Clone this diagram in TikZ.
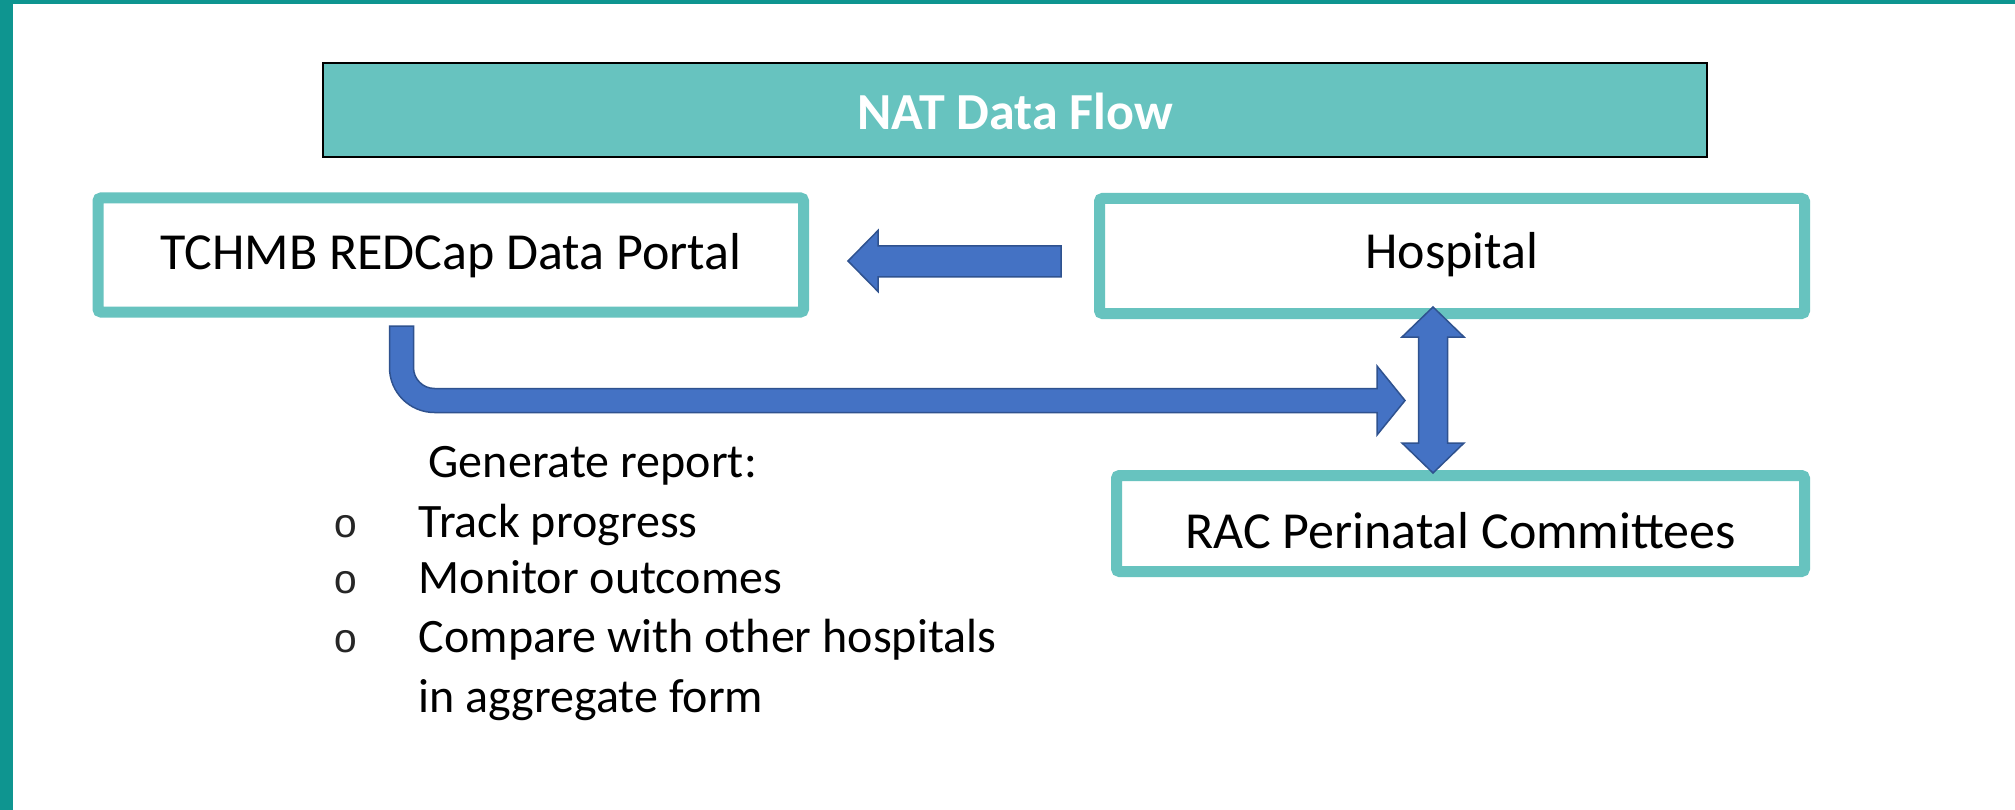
\documentclass[tikz,border=0pt]{standalone}
\usepackage{fontspec}
\setmainfont{Carlito}
\newfontfamily\bulletfont{Liberation Mono}
\definecolor{frameteal}{HTML}{0E9590}
\definecolor{lightteal}{HTML}{67C3BF}
\definecolor{arrowblue}{HTML}{4472C4}
\definecolor{arrowedge}{HTML}{2F528F}
\begin{document}
\begin{tikzpicture}[x=1pt,y=-1pt,
  boxstyle/.style={draw=lightteal, line width=11pt, rounded corners=3pt, fill=white,
    inner sep=0pt, font=\fontsize{52}{62}\selectfont, text=black},
  titlestyle/.style={draw=black, line width=2pt, fill=lightteal, inner sep=0pt,
    minimum width=1384pt, minimum height=94pt},
  blockarrow/.style={fill=arrowblue, draw=arrowedge, line width=1.5pt, line join=miter},
  listtext/.style={anchor=base west, inner sep=0pt, font=\fontsize{48}{58}\selectfont},
  bulletstyle/.style={anchor=base, inner sep=0pt, text=black!85, font=\bulletfont\fontsize{41}{58}\selectfont}
]
\useasboundingbox (0,0) rectangle (2015,810);
\fill[white] (0,0) rectangle (2015,810);
\fill[frameteal] (0,0) rectangle (2015,4);
\fill[frameteal] (0,0) rectangle (12.5,810);

% title
\node[titlestyle] (title) at (1015,110) {};
\node[anchor=base, inner sep=0pt, text=white, font=\bfseries\fontsize{52}{62}\selectfont] (titletext) at (1015,130) {NAT Data Flow};

% boxes
\node[boxstyle, minimum width=705.5pt, minimum height=114pt, text height=38pt, text depth=8pt] (portal) at (450.75,255) {TCHMB REDCap Data Portal};
\node[boxstyle, minimum width=705pt, minimum height=115pt, text height=36pt, text depth=10pt] (hosp) at (1452,256) {Hospital};
\node[boxstyle, minimum width=688pt, minimum height=96pt, text height=57pt, text depth=8pt] (rac) at (1460.5,523.5) {RAC Perinatal Committees};

% arrow Hospital -> Portal
\coordinate (la-start) at (1061,261.5);
\coordinate (la-tip) at (848,261);
\draw[blockarrow] (1061,246) -- (878,246) -- (878,230.5) -- (la-tip) -- (878,291.5) -- (878,277) -- (1061,277) -- cycle;

% bent arrow Portal -> Hospital/RAC link
\coordinate (ba-start) at (401.5,326);
\coordinate (ba-tip) at (1405,400.5);
\draw[blockarrow] (389.5,326) -- (389.5,367.5) arc[start angle=180, end angle=90, radius=45]
  -- (1377,412.5) -- (1377,435) -- (ba-tip) -- (1377,366) -- (1377,388.5)
  -- (434.5,388.5) arc[start angle=90, end angle=180, radius=21]
  -- (413.5,326) -- cycle;

% double arrow Hospital <-> RAC
\coordinate (da-top) at (1433,307);
\coordinate (da-bot) at (1433,473);
\draw[blockarrow] (da-top) -- (1464,337) -- (1447.5,337) -- (1447.5,443) -- (1464,443) -- (da-bot)
  -- (1402,443) -- (1418.5,443) -- (1418.5,337) -- (1402,337) -- cycle;

% list
\node[listtext] (gen) at (428.5,477) {Generate report:};
\node[bulletstyle] (b1) at (346,537) {o};
\node[listtext] (l1) at (418.6,537) {Track progress};
\node[bulletstyle] (b2) at (346,593) {o};
\node[listtext] (l2) at (418.6,593) {Monitor outcomes};
\node[bulletstyle] (b3) at (346,652) {o};
\node[listtext] (l3) at (418.6,652) {Compare with other hospitals};
\node[listtext] (l4) at (418.6,712) {in aggregate form};
\end{tikzpicture}
\end{document}
